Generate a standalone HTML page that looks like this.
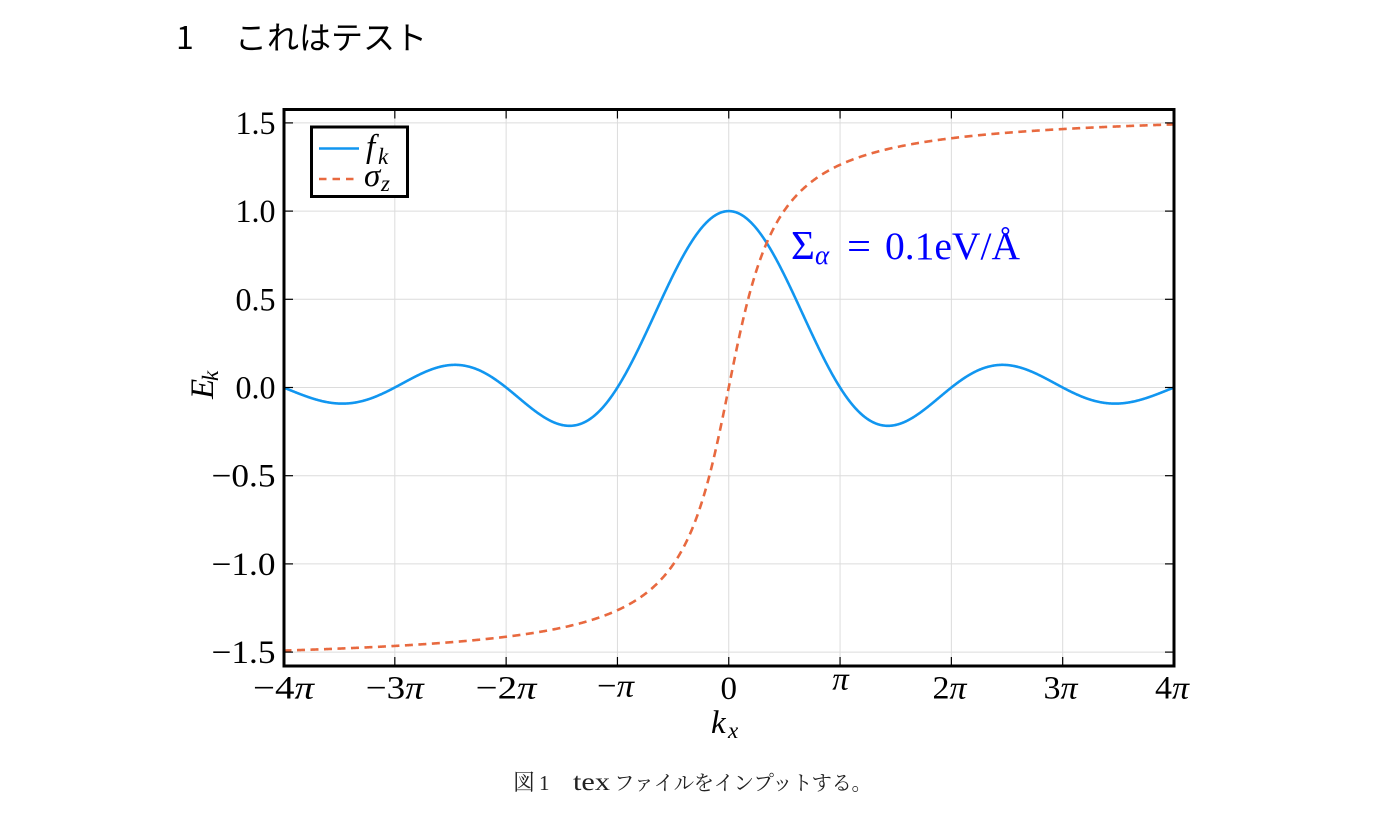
<!DOCTYPE html>
<html>
<head>
<meta charset="utf-8">
<style>
html,body{margin:0;padding:0;background:#fff;}
svg{display:block;}
.tk{font-family:"Liberation Serif","DejaVu Serif",serif;font-size:33px;fill:#000;}
.it{font-style:italic;}
</style>
</head>
<body>
<svg id="s" width="1386" height="826" viewBox="0 0 1386 826" xmlns="http://www.w3.org/2000/svg">
  <rect x="0" y="0" width="1386" height="826" fill="#fff"/>
  <!-- Title -->
  <text x="176" y="49" font-family="'Noto Sans CJK JP','Noto Sans CJK SC',sans-serif" font-size="32" fill="#000">1</text>
  <text x="235" y="49" font-family="'Noto Sans CJK JP','Noto Sans CJK SC',sans-serif" font-size="32" fill="#000" textLength="192">これはテスト</text>

  <defs>
    <clipPath id="cp"><rect x="284" y="109.5" width="890" height="556.5"/></clipPath>
  </defs>

  <!-- grid -->
  <g stroke="#dcdcdc" stroke-width="1" id="grid"></g>

  <!-- curves -->
  <g clip-path="url(#cp)">
    <path id="sinc" d="" fill="none" stroke="#1196f0" stroke-width="2.6" stroke-linejoin="round"/>
    <path id="atan" d="" fill="none" stroke="#e8693f" stroke-width="2.6" stroke-dasharray="8 5.5"/>
  </g>

  <!-- ticks -->
  <g stroke="#000" stroke-width="1.2" id="ticks"></g>

  <!-- frame -->
  <rect x="284" y="109.5" width="890" height="556.5" fill="none" stroke="#000" stroke-width="3"/>

  <!-- y tick labels -->
  <g class="tk" text-anchor="end">
    <text x="275.5" y="133.9" textLength="40" lengthAdjust="spacingAndGlyphs">1.5</text>
    <text x="275.5" y="222.1" textLength="40" lengthAdjust="spacingAndGlyphs">1.0</text>
    <text x="275.5" y="310.3" textLength="40" lengthAdjust="spacingAndGlyphs">0.5</text>
    <text x="275.5" y="398.5" textLength="40" lengthAdjust="spacingAndGlyphs">0.0</text>
    <text x="275.5" y="486.7" textLength="64" lengthAdjust="spacingAndGlyphs">−0.5</text>
    <text x="275.5" y="574.9" textLength="64" lengthAdjust="spacingAndGlyphs">−1.0</text>
    <text x="275.5" y="663.1" textLength="64" lengthAdjust="spacingAndGlyphs">−1.5</text>
  </g>

  <!-- x tick labels -->
  <g class="tk" text-anchor="middle">
    <text x="283.5" y="698.5" textLength="61" lengthAdjust="spacingAndGlyphs">−4<tspan class="it">π</tspan></text>
    <text x="394.8" y="698.5" textLength="58" lengthAdjust="spacingAndGlyphs">−3<tspan class="it">π</tspan></text>
    <text x="506.1" y="698.5" textLength="61" lengthAdjust="spacingAndGlyphs">−2<tspan class="it">π</tspan></text>
    <text x="615.5" y="696.5" textLength="37" lengthAdjust="spacingAndGlyphs">−<tspan class="it">π</tspan></text>
    <text x="728.75" y="699">0</text>
    <text x="840.5" y="689.5" class="it">π</text>
    <text x="949.5" y="698.5" textLength="34" lengthAdjust="spacingAndGlyphs">2<tspan class="it">π</tspan></text>
    <text x="1060.5" y="698.5" textLength="34" lengthAdjust="spacingAndGlyphs">3<tspan class="it">π</tspan></text>
    <text x="1172" y="698.5" textLength="34" lengthAdjust="spacingAndGlyphs">4<tspan class="it">π</tspan></text>
  </g>

  <!-- axis labels -->
  <g class="tk">
    <text x="711" y="733" class="it">k</text>
    <text x="728" y="738" class="it" font-size="23">x</text>
  </g>
  <g class="tk" transform="translate(213,399) rotate(-90)">
    <text x="0" y="0" class="it">E</text>
    <text x="18" y="5" class="it" font-size="23">k</text>
  </g>

  <!-- legend -->
  <rect x="311.5" y="127" width="96" height="69.5" fill="#fff" stroke="#000" stroke-width="3"/>
  <line x1="319" y1="148.5" x2="359" y2="148.5" stroke="#1196f0" stroke-width="2.6"/>
  <line x1="319" y1="179" x2="359" y2="179" stroke="#e8693f" stroke-width="2.6" stroke-dasharray="7.5 6"/>
  <g class="tk">
    <text x="366" y="157" class="it">f</text>
    <text x="378" y="164" class="it" font-size="23">k</text>
    <text x="364" y="186" class="it">σ</text>
    <text x="381" y="191" class="it" font-size="23">z</text>
  </g>

  <!-- annotation -->
  <g font-family="'Liberation Serif','DejaVu Serif',serif" fill="#0000ff">
    <text x="791" y="259" font-size="41">Σ</text>
    <text x="815" y="264" font-size="27" font-style="italic">α</text>
    <text x="847" y="259" font-size="39" textLength="24" lengthAdjust="spacingAndGlyphs">=</text>
    <text x="885" y="259" font-size="39" textLength="135" lengthAdjust="spacingAndGlyphs">0.1eV/Å</text>
  </g>

  <!-- caption -->
  <g fill="#222">
    <text x="513" y="790" font-family="'Noto Serif CJK SC','Noto Serif CJK JP',serif" font-size="22">図</text>
    <text x="539" y="790" font-family="'Liberation Serif',serif" font-size="21">1</text>
    <text x="573" y="790" font-family="'Liberation Serif',serif" font-size="25" textLength="37" lengthAdjust="spacingAndGlyphs">tex</text>
    <text x="614" y="790" font-family="'Noto Serif CJK SC','Noto Serif CJK JP',serif" font-size="20.5" textLength="258">ファイルをインプットする。</text>
  </g>
</svg>
<script>
(function(){
  var NS="http://www.w3.org/2000/svg";
  var L=284, R=1174, T=109.5, B=666;
  var cx=728.75, sx=111.31;
  var X=function(x){return cx + x/Math.PI*sx;};
  var Y=function(y){return 387.5 - y*176.4;};
  var d1="", d2="";
  var N=1600;
  for(var i=0;i<=N;i++){
    var x=-4*Math.PI + 8*Math.PI*i/N;
    var s=Math.abs(x)<1e-9?1:Math.sin(x)/x;
    var a=Math.atan(x);
    var px=X(x).toFixed(2);
    d1+=(i?"L":"M")+px+","+Y(s).toFixed(2);
    d2+=(i?"L":"M")+px+","+Y(a).toFixed(2);
  }
  document.getElementById("sinc").setAttribute("d",d1);
  document.getElementById("atan").setAttribute("d",d2);
  var g=document.getElementById("grid"), tk=document.getElementById("ticks");
  function ln(p,x1,y1,x2,y2){var l=document.createElementNS(NS,"line");l.setAttribute("x1",x1);l.setAttribute("y1",y1);l.setAttribute("x2",x2);l.setAttribute("y2",y2);p.appendChild(l);}
  for(var k=-4;k<=4;k++){
    var xp=cx+k*sx;
    ln(g,xp,T,xp,B);
    ln(tk,xp,B,xp,B-9);
    ln(tk,xp,T,xp,T+9);
  }
  var yv=[1.5,1.0,0.5,0,-0.5,-1.0,-1.5];
  for(var j=0;j<yv.length;j++){
    var yp=Y(yv[j]);
    ln(g,L,yp,R,yp);
    ln(tk,L,yp,L+9,yp);
    ln(tk,R,yp,R-9,yp);
  }
})();
</script>
</body>
</html>
